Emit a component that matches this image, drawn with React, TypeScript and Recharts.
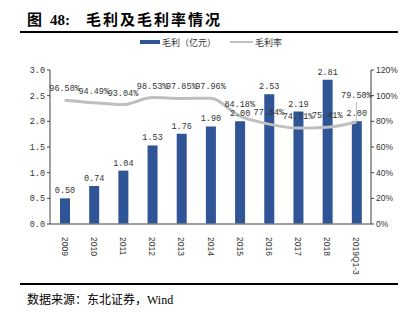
import {
  Bar,
  ComposedChart,
  LabelList,
  Line,
  XAxis,
  YAxis,
} from "recharts";

const BAR = "#2F5597";
const LINE = "#BFBFBF";
const AXIS = "#404040";
const NUM_FONT = '"Liberation Mono", "DejaVu Sans Mono", monospace';
const CJK_FONT = '"Noto Sans CJK SC", sans-serif';

const years = [
  "2009",
  "2010",
  "2011",
  "2012",
  "2013",
  "2014",
  "2015",
  "2016",
  "2017",
  "2018",
  "2019Q1-3",
];
const grossProfit = [0.5, 0.74, 1.04, 1.53, 1.76, 1.9, 2.0, 2.53, 2.19, 2.81, 2.0];
const grossMargin = [
  96.5, 94.49, 93.04, 98.53, 97.85, 97.96, 84.18, 77.84, 74.71, 75.41, 79.5,
];
const leftTicks = [0, 0.5, 1, 1.5, 2, 2.5, 3];
const rightTicks = [0, 20, 40, 60, 80, 100, 120];

const data = years.map((y, i) => ({
  year: y,
  profit: grossProfit[i],
  margin: grossMargin[i],
}));

function YearTick(props: any) {
  const { x, y, payload } = props;
  return (
    <g transform={`translate(${x},${y})`}>
      <text
        transform="rotate(90)"
        x={5}
        y={0}
        dy="0.35em"
        textAnchor="start"
        fontSize={8.5}
        fontFamily='"Liberation Sans", Arial, sans-serif'
        fill="#333"
      >
        {payload.value}
      </text>
    </g>
  );
}

// margin labels; the last one is lifted with a leader line, like the source
function MarginLabel(props: any) {
  const { x, y, value, index } = props;
  const last = index === years.length - 1;
  const lift = last ? 24 : 9;
  return (
    <g>
      {last && (
        <line x1={x} y1={y - 20} x2={x} y2={y} stroke={LINE} strokeWidth={1} />
      )}
      <text
        x={x}
        y={y - lift}
        textAnchor="middle"
        fontSize={8.5}
        fontFamily={NUM_FONT}
        fill="#333"
      >
        {`${Number(value).toFixed(2)}%`}
      </text>
    </g>
  );
}

export default function App() {
  return (
    <div
      style={{
        position: "absolute",
        left: 0,
        top: 0,
        width: 404,
        height: 322,
        background: "#fff",
        overflow: "hidden",
      }}
    >
      {/* title */}
      <div
        style={{
          position: "absolute",
          left: 27,
          top: 10,
          fontSize: 15,
          fontWeight: 700,
          fontFamily: CJK_FONT,
          lineHeight: "18px",
          whiteSpace: "nowrap",
          color: "#000",
        }}
      >
        <span>图</span>
        <span
          style={{
            marginLeft: 8,
            fontFamily: '"Liberation Serif", serif',
            fontSize: 15,
          }}
        >
          48:
        </span>
        <span style={{ marginLeft: 16, letterSpacing: 2 }}>毛利及毛利率情况</span>
      </div>
      <div
        style={{
          position: "absolute",
          left: 20,
          top: 31,
          width: 378,
          height: 1.5,
          background: "#000",
        }}
      />

      {/* legend */}
      <div
        style={{
          position: "absolute",
          left: 140,
          top: 35,
          fontSize: 9,
          fontFamily: CJK_FONT,
          color: "#333",
          whiteSpace: "nowrap",
          display: "flex",
          alignItems: "center",
          height: 14,
        }}
      >
        <span
          style={{
            display: "inline-block",
            width: 20,
            height: 4,
            background: BAR,
            marginRight: 2,
          }}
        />
        <span>毛利（亿元）</span>
        <span
          style={{
            display: "inline-block",
            width: 23,
            height: 2,
            background: LINE,
            marginLeft: 14,
            marginRight: 2,
          }}
        />
        <span>毛利率</span>
      </div>

      <div style={{ position: "absolute", left: 0, top: 0 }}>
        <ComposedChart
          width={404}
          height={322}
          data={data}
          margin={{ top: 70, right: 3, bottom: 48, left: 20 }}
          barCategoryGap={0}
        >
          <XAxis
            dataKey="year"
            tick={<YearTick />}
            tickLine={false}
            axisLine={{ stroke: "#808080", strokeWidth: 1.5 }}
            interval={0}
            height={50}
          />
          <YAxis
            yAxisId="left"
            domain={[0, 3]}
            ticks={leftTicks}
            width={30}
            tickFormatter={(v: number) => v.toFixed(1)}
            tick={{ fontSize: 8.5, fontFamily: NUM_FONT, fill: "#333" }}
            tickSize={3}
            tickMargin={2}
            tickLine={{ stroke: AXIS }}
            axisLine={{ stroke: AXIS }}
          />
          <YAxis
            yAxisId="right"
            orientation="right"
            domain={[0, 120]}
            ticks={rightTicks}
            width={30}
            tickFormatter={(v: number) => `${v}%`}
            tick={{
              fontSize: 8.5,
              fontFamily: '"Liberation Sans", Arial, sans-serif',
              fill: "#333",
            }}
            tickSize={3}
            tickMargin={2}
            tickLine={{ stroke: AXIS }}
            axisLine={{ stroke: AXIS }}
          />
          <Bar
            yAxisId="left"
            dataKey="profit"
            fill={BAR}
            barSize={10}
            isAnimationActive={false}
          >
            <LabelList
              dataKey="profit"
              position="top"
              offset={5}
              formatter={(v: any) => Number(v).toFixed(2)}
              style={{ fontSize: 8.5, fontFamily: NUM_FONT, fill: "#333" }}
            />
          </Bar>
          <Line
            yAxisId="right"
            dataKey="margin"
            type="monotone"
            stroke={LINE}
            strokeWidth={3}
            dot={false}
            isAnimationActive={false}
          >
            <LabelList dataKey="margin" content={<MarginLabel />} />
          </Line>
        </ComposedChart>
      </div>

      {/* source */}
      <div
        style={{
          position: "absolute",
          left: 20,
          top: 283,
          width: 378,
          height: 1.5,
          background: "#000",
        }}
      />
      <div
        style={{
          position: "absolute",
          left: 27,
          top: 292,
          fontSize: 12,
          lineHeight: "16px",
          fontFamily: '"Liberation Serif", "Noto Sans CJK SC", serif',
          color: "#000",
          whiteSpace: "nowrap",
        }}
      >
        数据来源：东北证券，Wind
      </div>
    </div>
  );
}
